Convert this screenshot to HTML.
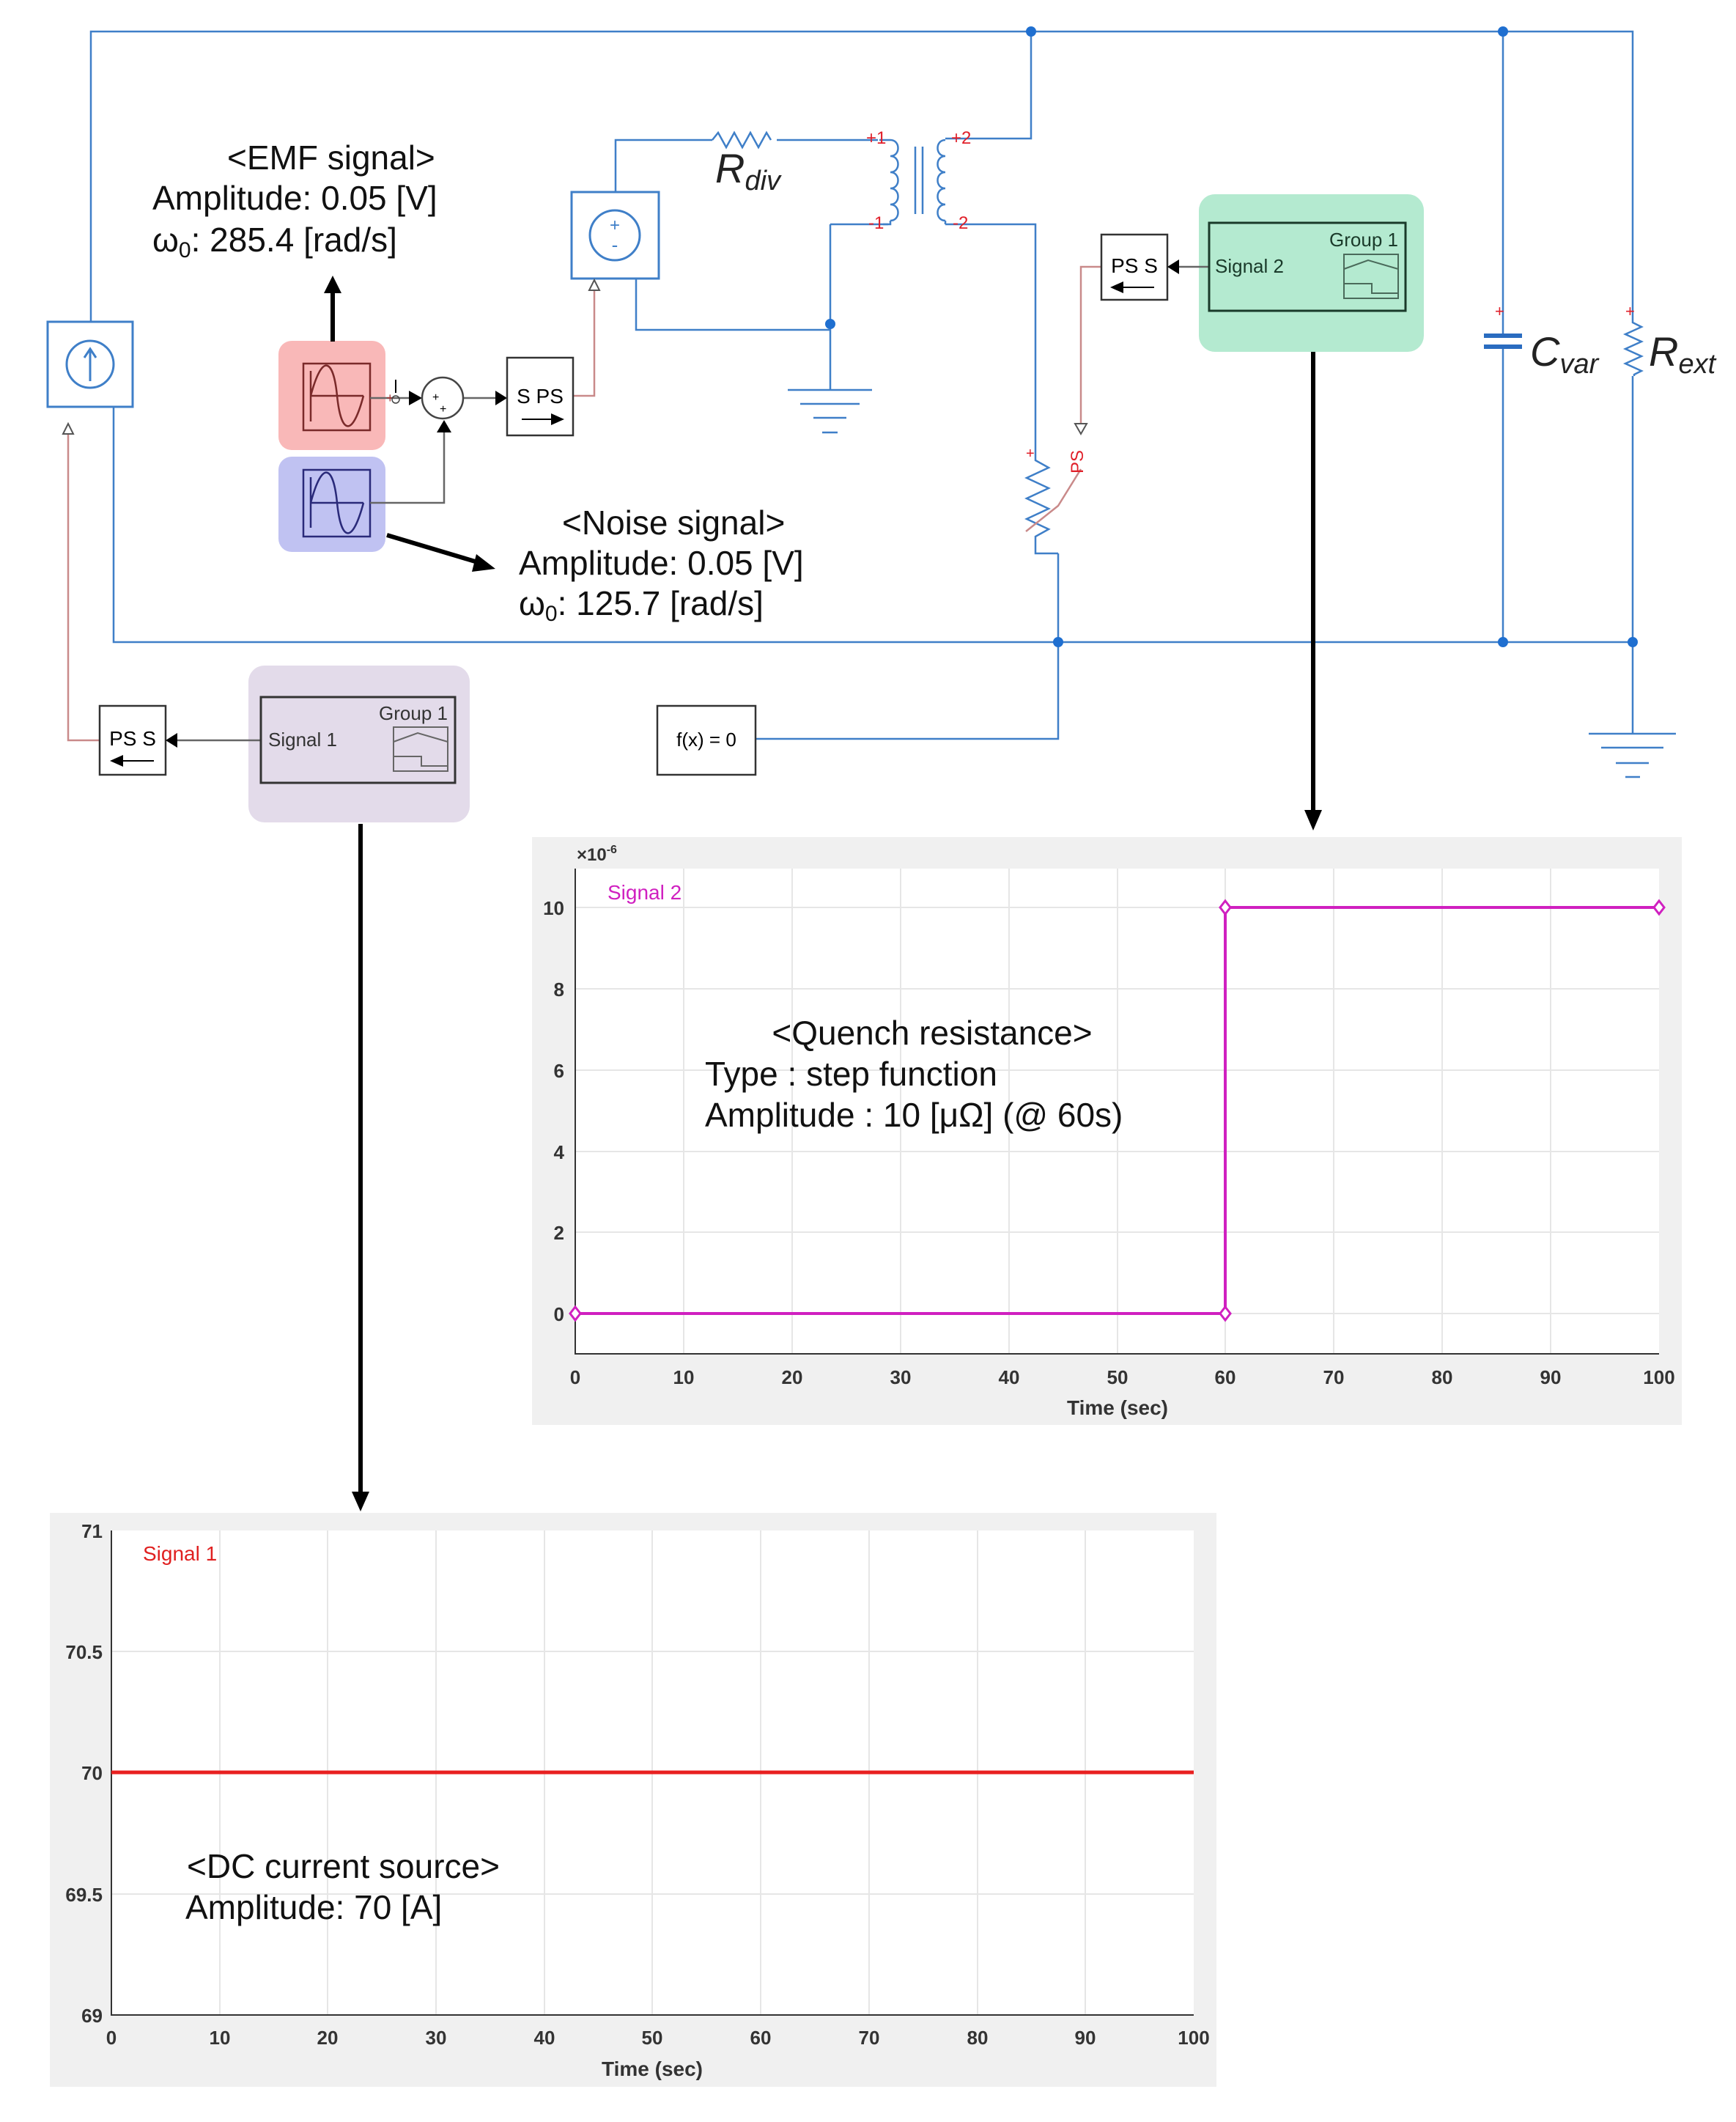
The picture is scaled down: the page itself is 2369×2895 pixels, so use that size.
<!DOCTYPE html>
<html><head><meta charset="utf-8"><style>
html,body{margin:0;padding:0;background:#fff}
svg{display:block}
text{font-family:"Liberation Sans",sans-serif}
</style></head><body>
<svg width="2369" height="2895" viewBox="0 0 2369 2895" xmlns="http://www.w3.org/2000/svg">
<defs>
<marker id="ab" markerWidth="10" markerHeight="10" refX="9" refY="5" orient="auto" markerUnits="userSpaceOnUse"><path d="M0,0 L10,5 L0,10 z" fill="#000"/></marker>
</defs>
<rect width="2369" height="2895" fill="#fff"/>
<g fill="none" stroke="#3f7fc8" stroke-width="2.5">
<!-- top wire -->
<path d="M124,439 V43 H2228 V425"/>
<path d="M1407,43 V189 H1290"/>
<path d="M2051,43 V458"/>
<path d="M2051,473 V876"/>
<path d="M2228,513 V1001"/>
<!-- bottom wire -->
<path d="M155,555 V876 H2228"/>
<path d="M1444,755 V1008 H1031"/>
<!-- voltage source wiring -->
<path d="M840,262 V191 H972"/>
<path d="M1060,191 H1198"/>
<path d="M868,380 V450 H1133"/>
<path d="M1133,306 V532"/>
<path d="M1133,306 H1212"/>
<path d="M1290,306 H1413 V616"/>
<!-- transformer coils -->
<path d="M1215,191 c14,0 14,22 0,22 c14,0 14,22 0,22 c14,0 14,22 0,22 c14,0 14,22 0,22 c14,0 14,22 0,22 M1215,191 H1200 M1215,301 V306 H1205"/>
<path d="M1290,191 c-14,0 -14,22 0,22 c-14,0 -14,22 0,22 c-14,0 -14,22 0,22 c-14,0 -14,22 0,22 c-14,0 -14,22 0,22 M1290,301 V306"/>
<path d="M1249,200 V292 M1259,200 V292"/>
<!-- Rdiv -->
<path d="M972,191 l8,-10 l11,20 l11,-20 l11,20 l11,-20 l11,20 l11,-20 l6,10"/>
<!-- variable resistor -->
<path d="M1413,616 V628 l18,10 l-30,14 l30,14 l-30,14 l30,14 l-30,14 l30,14 l-18,10 V755 H1444"/>
<!-- Rext -->
<path d="M2228,425 V440 l12,6 l-22,10 l22,10 l-22,10 l22,10 l-22,10 l22,10 l-10,5 V513"/>
<!-- grounds -->
<path d="M1075,532 H1190 M1092,551 H1173 M1110,570 H1155 M1122,590 H1143"/>
<path d="M2168,1001 H2287 M2185,1020 H2270 M2205,1041 H2250 M2218,1060 H2238"/>
</g>
<!-- capacitor plates -->
<g stroke="#2a6cc0" stroke-width="6"><path d="M2025,458 H2077 M2025,473 H2077"/></g>
<!-- junction dots -->
<g fill="#1f6fd0"><circle cx="1407" cy="43" r="7"/><circle cx="2051" cy="43" r="7"/><circle cx="1133" cy="442" r="7"/><circle cx="1444" cy="876" r="7"/><circle cx="2051" cy="876" r="7"/><circle cx="2228" cy="876" r="7"/></g>
<!-- red port labels -->
<g fill="#e0202a" font-size="24"><text x="1182" y="196">+1</text><text x="1298" y="196">+2</text><text x="1185" y="312">-1</text><text x="1300" y="312">-2</text><text x="1400" y="625" font-size="20">+</text><text x="2040" y="432" font-size="22">+</text><text x="2218" y="432" font-size="22">+</text></g>
<!-- current source -->
<rect x="65" y="439" width="116" height="116" fill="#fff" stroke="#3f7fc8" stroke-width="3"/>
<circle cx="123" cy="497" r="32" fill="none" stroke="#3f7fc8" stroke-width="3"/>
<path d="M123,520 V478 M115,488 L123,476 L131,488" stroke="#3f7fc8" stroke-width="3" fill="none"/>
<!-- voltage source -->
<rect x="780" y="262" width="119" height="118" fill="#fff" stroke="#3f7fc8" stroke-width="3"/>
<circle cx="839" cy="321" r="34" fill="none" stroke="#3f7fc8" stroke-width="3"/>
<text x="839" y="315" font-size="24" text-anchor="middle" fill="#3f7fc8">+</text>
<text x="839" y="343" font-size="26" text-anchor="middle" fill="#3f7fc8">-</text>
<!-- red/pink signal wires -->
<g fill="none" stroke="#c98a8a" stroke-width="2.5">
<path d="M93,590 V1010 H136"/>
<path d="M782,540 H811 V396"/>
<path d="M1503,364 H1475 V580"/>
<path d="M1475,640 L1444,690 L1400,725"/>
</g>
<path d="M86,592 L93,578 L100,592 z" fill="#fff" stroke="#555" stroke-width="2"/>
<path d="M804,396 L811,382 L818,396 z" fill="#fff" stroke="#555" stroke-width="2"/>
<path d="M1467,578 L1475,592 L1483,578 z" fill="#fff" stroke="#555" stroke-width="2"/>
<text x="1478" y="646" font-size="24" fill="#e0202a" transform="rotate(-90 1478 646)">PS</text>
<!-- highlights -->
<rect x="380" y="465" width="146" height="149" rx="18" fill="#f9b8b8"/>
<rect x="380" y="623" width="146" height="130" rx="18" fill="#c0c2f2"/>
<rect x="339" y="908" width="302" height="214" rx="22" fill="#e3dbea"/>
<rect x="1636" y="265" width="307" height="215" rx="22" fill="#b4ead0"/>
<!-- sine blocks -->
<rect x="414" y="496" width="91" height="91" fill="none" stroke="#7a2a2a" stroke-width="2.5"/>
<path d="M424,506 V575 M424,540 H496 M424,540 C440,480 455,490 460,540 S480,600 496,540" fill="none" stroke="#7a2a2a" stroke-width="2.5"/>
<rect x="414" y="641" width="91" height="91" fill="none" stroke="#2a2a7a" stroke-width="2.5"/>
<path d="M424,651 V720 M424,686 H496 M424,686 C440,626 455,636 460,686 S480,746 496,686" fill="none" stroke="#2a2a7a" stroke-width="2.5"/>
<!-- signal lines -->
<g fill="none" stroke="#666" stroke-width="2.5">
<path d="M505,543 H568"/><path d="M633,543 H680"/><path d="M505,686 H606 V583"/>
</g>
<path d="M558,533 L576,543 L558,553 z" fill="#000"/>
<path d="M676,533 L692,543 L676,553 z" fill="#000"/>
<path d="M596,590 L606,573 L616,590 z" fill="#000"/>
<text x="527" y="549" font-size="18" fill="#a33">+</text>
<circle cx="540" cy="545" r="5" fill="none" stroke="#444" stroke-width="1.5"/>
<path d="M540,518 V536" stroke="#000" stroke-width="2"/>
<circle cx="604" cy="543" r="28" fill="#fff" stroke="#444" stroke-width="2.5"/>
<text x="590" y="547" font-size="16">+</text><text x="600" y="563" font-size="16">+</text>
<!-- S PS -->
<rect x="692" y="488" width="90" height="106" fill="#fff" stroke="#333" stroke-width="2.5"/>
<text x="737" y="550" font-size="28" text-anchor="middle">S PS</text>
<path d="M712,572 H760" stroke="#000" stroke-width="2"/><path d="M752,564 L770,572 L752,580 z"/>
<!-- PS S left -->
<rect x="136" y="963" width="90" height="94" fill="#fff" stroke="#333" stroke-width="2.5"/>
<text x="181" y="1017" font-size="28" text-anchor="middle">PS S</text>
<path d="M160,1038 H210" stroke="#000" stroke-width="2"/><path d="M168,1030 L150,1038 L168,1046 z"/>
<path d="M356,1010 H240" stroke="#666" stroke-width="2.5"/><path d="M242,1000 L226,1010 L242,1020 z"/>
<!-- PS S right -->
<rect x="1503" y="320" width="90" height="89" fill="#fff" stroke="#333" stroke-width="2.5"/>
<text x="1548" y="372" font-size="28" text-anchor="middle">PS S</text>
<path d="M1525,392 H1575" stroke="#000" stroke-width="2"/><path d="M1533,384 L1515,392 L1533,400 z"/>
<path d="M1650,364 H1608" stroke="#666" stroke-width="2.5"/><path d="M1609,354 L1593,364 L1609,374 z"/>
<!-- signal builder blocks -->
<rect x="356" y="951" width="265" height="117" fill="none" stroke="#333" stroke-width="3"/>
<text x="366" y="1018" font-size="26" fill="#333">Signal 1</text>
<text x="611" y="982" font-size="26" fill="#333" text-anchor="end">Group 1</text>
<rect x="537" y="992" width="74" height="60" fill="none" stroke="#666" stroke-width="2"/>
<path d="M537,1012 L570,1000 L611,1012 M537,1032 H575 V1045 H611" fill="none" stroke="#666" stroke-width="2"/>
<rect x="1650" y="304" width="268" height="120" fill="none" stroke="#1a3a2a" stroke-width="3"/>
<text x="1658" y="372" font-size="26" fill="#1a3a2a">Signal 2</text>
<text x="1908" y="336" font-size="26" fill="#1a3a2a" text-anchor="end">Group 1</text>
<rect x="1834" y="347" width="74" height="60" fill="none" stroke="#4a6a5a" stroke-width="2"/>
<path d="M1834,367 L1867,355 L1908,367 M1834,387 H1872 V400 H1908" fill="none" stroke="#4a6a5a" stroke-width="2"/>
<!-- f(x)=0 -->
<rect x="897" y="963" width="134" height="94" fill="#fff" stroke="#333" stroke-width="2.5"/>
<text x="964" y="1018" font-size="26" text-anchor="middle">f(x) = 0</text>
<!-- labels -->
<g font-family="Liberation Serif,serif" font-style="italic" fill="#222">
<text x="976" y="249" font-size="56">R<tspan font-size="38" dy="10">div</tspan></text>
<text x="2088" y="499" font-size="56">C<tspan font-size="38" dy="10">var</tspan></text>
<text x="2250" y="499" font-size="56">R<tspan font-size="38" dy="10">ext</tspan></text>
</g>
<g font-size="46" fill="#111">
<text x="310" y="231">&lt;EMF signal&gt;</text>
<text x="208" y="286">Amplitude: 0.05 [V]</text>
<text x="208" y="343">ω<tspan font-size="30" dy="8">0</tspan><tspan dy="-8">: 285.4 [rad/s]</tspan></text>
<text x="767" y="729">&lt;Noise signal&gt;</text>
<text x="708" y="784">Amplitude: 0.05 [V]</text>
<text x="708" y="839">ω<tspan font-size="30" dy="8">0</tspan><tspan dy="-8">: 125.7 [rad/s]</tspan></text>
</g>
<!-- black arrows -->
<g stroke="#000" stroke-width="6" fill="none">
<path d="M454,466 V395"/><path d="M528,730 L655,768"/><path d="M1792,480 V1110"/><path d="M492,1124 V2040"/>
</g>
<path d="M442,400 L454,376 L466,400 z"/>
<path d="M650,756 L676,776 L644,780 z"/>
<path d="M1780,1105 L1792,1133 L1804,1105 z"/>
<path d="M480,2035 L492,2062 L504,2035 z"/>
<!-- Plot 2 -->
<rect x="726" y="1142" width="1569" height="802" fill="#f0f0f0"/>
<rect x="785" y="1185" width="1479" height="662" fill="#fff"/>
<g stroke="#e6e6e6" stroke-width="2">
<path d="M933,1185V1847M1081,1185V1847M1229,1185V1847M1377,1185V1847M1525,1185V1847M1672,1185V1847M1820,1185V1847M1968,1185V1847M2116,1185V1847"/>
<path d="M785,1238H2264M785,1349H2264M785,1460H2264M785,1571H2264M785,1681H2264M785,1792H2264"/>
</g>
<path d="M785,1185 V1847 H2264" fill="none" stroke="#333" stroke-width="2"/>
<path d="M785,1792 H1672 V1238 H2264" fill="none" stroke="#d020c0" stroke-width="4"/>
<g fill="#fff" stroke="#d020c0" stroke-width="3"><path d="M785,1783 l7,9 l-7,9 l-7,-9z"/><path d="M1672,1783 l7,9 l-7,9 l-7,-9z"/><path d="M1672,1229 l7,9 l-7,9 l-7,-9z"/><path d="M2264,1229 l7,9 l-7,9 l-7,-9z"/></g>
<text x="829" y="1227" font-size="28" fill="#d020c0">Signal 2</text>
<g font-size="26" font-weight="bold" fill="#333" text-anchor="end">
<text x="770" y="1248">10</text><text x="770" y="1359">8</text><text x="770" y="1470">6</text><text x="770" y="1581">4</text><text x="770" y="1691">2</text><text x="770" y="1802">0</text>
</g>
<text x="787" y="1174" font-size="24" font-weight="bold" fill="#333">×10<tspan font-size="16" dy="-10">-6</tspan></text>
<g font-size="26" font-weight="bold" fill="#333" text-anchor="middle">
<text x="785" y="1888">0</text><text x="933" y="1888">10</text><text x="1081" y="1888">20</text><text x="1229" y="1888">30</text><text x="1377" y="1888">40</text><text x="1525" y="1888">50</text><text x="1672" y="1888">60</text><text x="1820" y="1888">70</text><text x="1968" y="1888">80</text><text x="2116" y="1888">90</text><text x="2264" y="1888">100</text>
<text x="1525" y="1930" font-size="28">Time (sec)</text>
</g>
<g font-size="46" fill="#111">
<text x="1272" y="1425" text-anchor="middle">&lt;Quench resistance&gt;</text>
<text x="962" y="1481">Type : step function</text>
<text x="962" y="1537">Amplitude : 10 [μΩ] (@ 60s)</text>
</g>
<!-- Plot 1 -->
<rect x="68" y="2064" width="1592" height="783" fill="#f0f0f0"/>
<rect x="152" y="2088" width="1477" height="661" fill="#fff"/>
<g stroke="#e6e6e6" stroke-width="2">
<path d="M300,2088V2749M447,2088V2749M595,2088V2749M743,2088V2749M890,2088V2749M1038,2088V2749M1186,2088V2749M1334,2088V2749M1481,2088V2749"/>
<path d="M152,2253H1629M152,2418H1629M152,2584H1629"/>
</g>
<path d="M152,2088 V2749 H1629" fill="none" stroke="#333" stroke-width="2"/>
<path d="M152,2418 H1629" stroke="#e82020" stroke-width="5"/>
<text x="195" y="2129" font-size="28" fill="#e02020">Signal 1</text>
<g font-size="26" font-weight="bold" fill="#333" text-anchor="end">
<text x="140" y="2098">71</text><text x="140" y="2263">70.5</text><text x="140" y="2428">70</text><text x="140" y="2594">69.5</text><text x="140" y="2759">69</text>
</g>
<g font-size="26" font-weight="bold" fill="#333" text-anchor="middle">
<text x="152" y="2789">0</text><text x="300" y="2789">10</text><text x="447" y="2789">20</text><text x="595" y="2789">30</text><text x="743" y="2789">40</text><text x="890" y="2789">50</text><text x="1038" y="2789">60</text><text x="1186" y="2789">70</text><text x="1334" y="2789">80</text><text x="1481" y="2789">90</text><text x="1629" y="2789">100</text>
<text x="890" y="2832" font-size="28">Time (sec)</text>
</g>
<g font-size="46" fill="#111">
<text x="255" y="2562">&lt;DC current source&gt;</text>
<text x="253" y="2618">Amplitude: 70 [A]</text>
</g>
</svg>
</body></html>
